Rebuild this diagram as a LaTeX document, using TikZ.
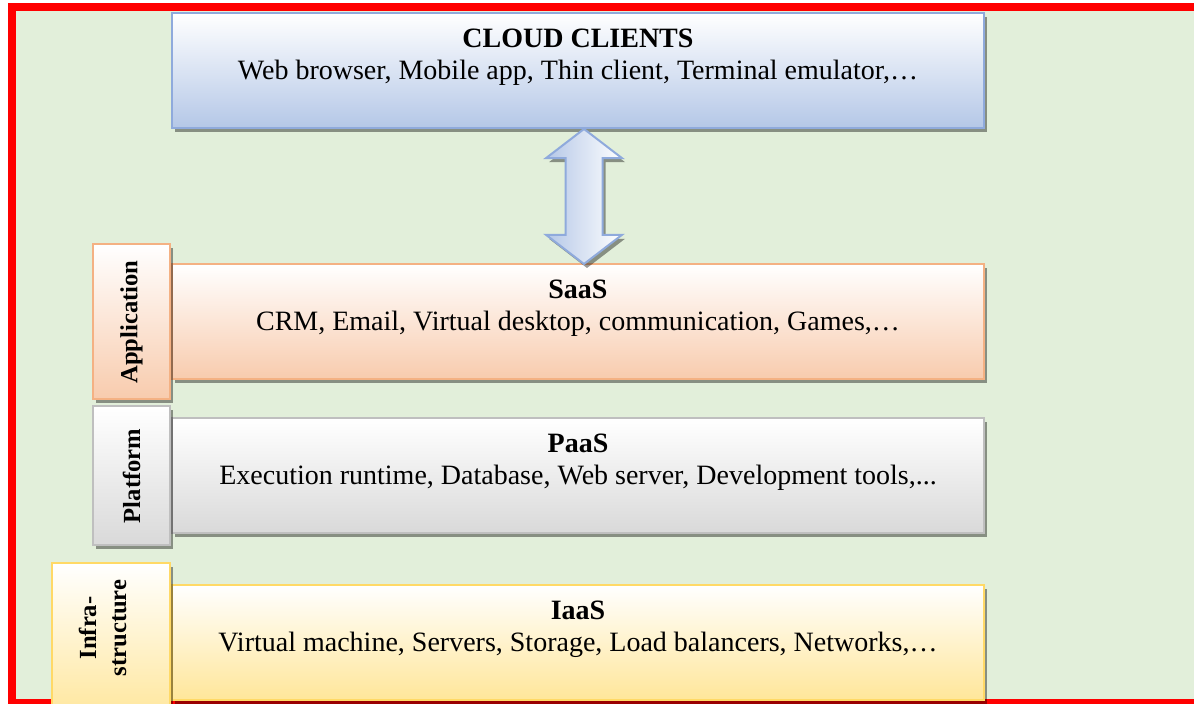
\documentclass[tikz,border=0pt]{standalone}
\usepackage{fontspec}
\setmainfont{Liberation Serif}
\usepackage{graphicx}
\usetikzlibrary{shapes,arrows,positioning,shadows,calc}
\definecolor{bggreen}{HTML}{E2EFDA}
\definecolor{cliedge}{HTML}{8FAADC}
\definecolor{clifill}{HTML}{B4C7E7}
\definecolor{saasedge}{HTML}{F4B183}
\definecolor{saasfill}{HTML}{F8CBAD}
\definecolor{paasedge}{HTML}{BFBFBF}
\definecolor{paasfill}{HTML}{D9D9D9}
\definecolor{iaasedge}{HTML}{FFD966}
\definecolor{iaasfill}{HTML}{FFE699}
\tikzstyle{boxshadow}=[drop shadow={shadow xshift=1.5pt,shadow yshift=-2pt,fill=black,opacity=0.4}]
\tikzstyle{layer}=[rectangle,draw,line width=1pt,minimum width=406pt,minimum height=57.5pt,align=center,text depth=17pt,font=\fontsize{14}{16}\selectfont,boxshadow]
\tikzstyle{side}=[rectangle,draw,line width=1pt,minimum width=38.5pt,align=center,font=\fontsize{12.3}{15}\selectfont\bfseries,boxshadow]

\begin{document}
\begin{tikzpicture}[node distance=0pt]
\useasboundingbox (0,0) rectangle (597pt,352pt);
% red frame round the whole stack
\draw [red,line width=4pt,fill=bggreen] (6pt,0.5pt) rectangle (599pt,348.5pt);
% service layers
\node (clients) [layer,draw=cliedge,top color=white,bottom color=clifill] at (289pt,316.5pt) {\textbf{CLOUD CLIENTS}\\Web browser, Mobile app, Thin client, Terminal emulator,…};
\node (saas) [layer,draw=saasedge,top color=white,bottom color=saasfill,below=67pt of clients] {\textbf{SaaS}\\CRM, Email, Virtual desktop, communication, Games,…};
\node (paas) [layer,draw=paasedge,top color=white,bottom color=paasfill,below=18.5pt of saas] {\textbf{PaaS}\\Execution runtime, Database, Web server, Development tools,...};
\node (iaas) [layer,draw=iaasedge,top color=white,bottom color=iaasfill,below=25pt of paas] {\textbf{IaaS}\\Virtual machine, Servers, Storage, Load balancers, Networks,…};
% side tags
\node (app) [side,draw=saasedge,top color=white,bottom color=saasfill,minimum height=77.5pt,left=of saas] {\rotatebox{90}{Application}};
\node (plat) [side,draw=paasedge,top color=white,bottom color=paasfill,minimum height=69.5pt,left=of paas] {\rotatebox{90}{Platform}};
\node (infra) [side,draw=iaasedge,top color=white,bottom color=iaasfill,minimum width=59pt,minimum height=79.5pt,left=of iaas] {\rotatebox{90}{\begin{tabular}{@{}c@{}}Infra-\\structure\end{tabular}}\rule[-15pt]{0pt}{15pt}\hspace{6pt}};
% two-way link between clients and SaaS
\node (link) [double arrow,draw=cliedge,line width=1pt,left color=clifill,right color=white,rotate=90,minimum height=67.5pt,inner xsep=0pt,inner ysep=8.75pt,double arrow head extend=9.75pt,double arrow tip angle=105,boxshadow] at ($(clients.south)!0.5!(saas.north)+(3pt,0)$) {};
\end{tikzpicture}
\end{document}
